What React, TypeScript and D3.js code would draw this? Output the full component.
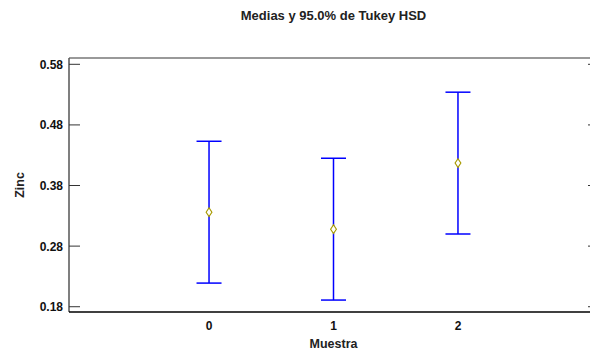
import React from "react";
import * as d3 from "d3";

const categories = ["0", "1", "2"];
const means = [0.336, 0.308, 0.417];
const lowers = [0.219, 0.191, 0.300];
const uppers = [0.453, 0.425, 0.534];
const yTicks = [0.18, 0.28, 0.38, 0.48, 0.58];

const W = 590;
const H = 354;
const left = 69;
const right = 598;
const top = 58;
const bottom = 312;
const FONT = "'Liberation Sans Narrow', 'Arial Narrow', 'Liberation Sans', Arial, sans-serif";

export default function App() {
  const x = d3.scaleLinear().domain([-1.125, 3.125]).range([left, right]);
  const y = d3.scaleLinear().domain([0.1713, 0.5904]).range([bottom, top]);
  const diamond = d3.symbol().type(d3.symbolDiamond).size(22)();
  return (
    <svg width={W} height={H} style={{ position: "absolute", left: 0, top: 0, background: "#fff" }}>
      <text x={(left + right) / 2} y={20} textAnchor="middle" fontFamily={FONT} fontWeight="bold" fontSize={13} fill="#222">
        Medias y 95.0% de Tukey HSD
      </text>
      {/* frame */}
      <line x1={left} x2={right} y1={top} y2={top} stroke="#777" strokeWidth={1.5} />
      <line x1={left} x2={left} y1={top} y2={bottom} stroke="#555" strokeWidth={1.5} />
      <line x1={right} x2={right} y1={top} y2={bottom} stroke="#555" strokeWidth={1.5} />
      <line x1={left} x2={right} y1={bottom} y2={bottom} stroke="#000" strokeWidth={1.5} />
      {yTicks.map((t) => (
        <g key={t}>
          <line x1={left} x2={left + 11} y1={y(t)} y2={y(t)} stroke="#333" strokeWidth={1} />
          <line x1={right - 10} x2={right} y1={y(t)} y2={y(t)} stroke="#333" strokeWidth={1} />
          <text x={63} y={y(t) + 4.5} textAnchor="end" fontFamily={FONT} fontWeight="bold" fontSize={12} fill="#111">
            {t.toFixed(2)}
          </text>
        </g>
      ))}
      {categories.map((c, i) => (
        <text key={c} x={x(i)} y={330} textAnchor="middle" fontFamily={FONT} fontWeight="bold" fontSize={12} fill="#111">
          {c}
        </text>
      ))}
      <text x={(left + right) / 2} y={348} textAnchor="middle" fontFamily={FONT} fontWeight="bold" fontSize={12.5} fill="#222">
        Muestra
      </text>
      <text transform={`translate(24, ${(top + bottom) / 2}) rotate(-90)`} textAnchor="middle" fontFamily={FONT} fontWeight="bold" fontSize={12.5} fill="#222">
        Zinc
      </text>
      {categories.map((c, i) => {
        const cx = x(i);
        return (
          <g key={"eb" + c}>
            <line x1={cx} x2={cx} y1={y(lowers[i])} y2={y(uppers[i])} stroke="#0000ff" strokeWidth={1.5} />
            <line x1={cx - 12.5} x2={cx + 12.5} y1={y(uppers[i])} y2={y(uppers[i])} stroke="#0000ff" strokeWidth={1.5} />
            <line x1={cx - 12.5} x2={cx + 12.5} y1={y(lowers[i])} y2={y(lowers[i])} stroke="#0000ff" strokeWidth={1.5} />
            <path d={diamond || ""} transform={`translate(${cx},${y(means[i])}) scale(1.15,1)`} fill="#fff" stroke="#a89a00" strokeWidth={1} />
          </g>
        );
      })}
    </svg>
  );
}
